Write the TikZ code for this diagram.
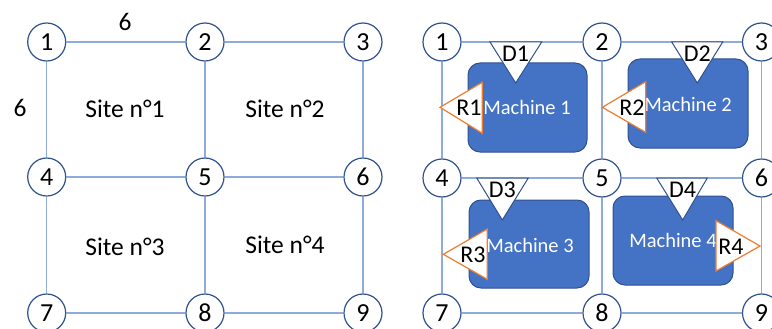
\documentclass[tikz,border=0pt]{standalone}
\usepackage{fontspec}
\setmainfont{Carlito}
\definecolor{edgeblue}{HTML}{8FAADC}
\definecolor{rimblue}{HTML}{2F528F}
\definecolor{boxblue}{HTML}{4472C4}
\definecolor{droporange}{HTML}{ED7D31}
\tikzset{
  vtx/.style={circle,draw=rimblue,fill=white,line width=1.2pt,minimum size=38pt,inner sep=0pt,font=\fontsize{26}{28}\selectfont},
  link/.style={draw=edgeblue,line width=1.2pt},
  machine/.style={draw=rimblue,fill=boxblue,line width=1pt,rounded corners=12pt},
  mlbl/.style={text=white,font=\fontsize{20.5}{23}\selectfont},
  dock/.style={draw=rimblue,fill=white,line width=1pt},
  ret/.style={draw=droporange,fill=white,line width=1.2pt},
  tag/.style={inner sep=0pt,font=\fontsize{24}{26}\selectfont},
  sitelbl/.style={font=\fontsize{25.5}{28}\selectfont}
}
\begin{document}
\begin{tikzpicture}[x=1pt,y=-1pt]
    \useasboundingbox (0,0) rectangle (772,329);
    % left grid
    \node[vtx] (a1) at (46.7,42) {1};
    \node[vtx] (a2) at (205,42) {2};
    \node[vtx] (a3) at (363,42) {3};
    \node[vtx] (a4) at (46.7,177) {4};
    \node[vtx] (a5) at (205,177) {5};
    \node[vtx] (a6) at (363,177) {6};
    \node[vtx] (a7) at (46.7,313) {7};
    \node[vtx] (a8) at (205,313) {8};
    \node[vtx] (a9) at (363,313) {9};
    \draw[link] (a1) -- (a2);
    \draw[link] (a2) -- (a3);
    \draw[link] (a4) -- (a5);
    \draw[link] (a5) -- (a6);
    \draw[link] (a7) -- (a8);
    \draw[link] (a8) -- (a9);
    \draw[link] (a1) -- (a4);
    \draw[link] (a4) -- (a7);
    \draw[link] (a2) -- (a5);
    \draw[link] (a5) -- (a8);
    \draw[link] (a3) -- (a6);
    \draw[link] (a6) -- (a9);
    \node[sitelbl] (len1) at (125,22) {6};
    \node[sitelbl] (len2) at (20,108) {6};
    \node[sitelbl] (s1) at (125,109) {Site n°1};
    \node[sitelbl] (s2) at (285,109) {Site n°2};
    \node[sitelbl] (s3) at (125,247) {Site n°3};
    \node[sitelbl] (s4) at (285,245) {Site n°4};
    % right grid
    \node[vtx] (b1) at (442,42) {1};
    \node[vtx] (b2) at (602,42) {2};
    \node[vtx] (b3) at (761.5,42) {3};
    \node[vtx] (b4) at (442,178) {4};
    \node[vtx] (b5) at (602,178) {5};
    \node[vtx] (b6) at (761.5,178) {6};
    \node[vtx] (b7) at (442,313) {7};
    \node[vtx] (b8) at (602,313) {8};
    \node[vtx] (b9) at (761.5,313) {9};
    \draw[link] (b1) -- (b2);
    \draw[link] (b2) -- (b3);
    \draw[link] (b4) -- (b5);
    \draw[link] (b5) -- (b6);
    \draw[link] (b7) -- (b8);
    \draw[link] (b8) -- (b9);
    \draw[link] (b1) -- (b4);
    \draw[link] (b4) -- (b7);
    \draw[link] (b2) -- (b5);
    \draw[link] (b5) -- (b8);
    \draw[link] (b3) -- (b6);
    \draw[link] (b6) -- (b9);
    % machines
    \draw[machine] (468,63) rectangle (587,152);
    \draw[machine] (628,59) rectangle (748,148);
    \draw[machine] (469,200) rectangle (589,288);
    \draw[machine] (613,196) rectangle (733,285);
    \node[mlbl] (m1) at (527,107) {Machine 1};
    \node[mlbl] (m2) at (688,104) {Machine 2};
    \node[mlbl] (m3) at (530,245) {Machine 3};
    \node[mlbl] (m4) at (673,240) {Machine 4};
    % docks
    \draw[dock] (490,42) -- (541.7,42) -- (515.7,83) -- cycle;
    \draw[dock] (671.7,42) -- (722.7,42) -- (697.3,83) -- cycle;
    \draw[dock] (476.7,178) -- (528.3,178) -- (502.3,220) -- cycle;
    \draw[dock] (656.7,178) -- (707.3,178) -- (682.7,220) -- cycle;
    \node[tag] (d1) at (515.7,54) {D1};
    \node[tag] (d2) at (697.3,54) {D2};
    \node[tag] (d3) at (502.3,190) {D3};
    \node[tag] (d4) at (682.7,190) {D4};
    % returns
    \draw[ret] (482.3,82.3) -- (482.3,133.3) -- (440,107.3) -- cycle;
    \draw[ret] (645.7,81.7) -- (645.7,132.3) -- (602.3,107.3) -- cycle;
    \draw[ret] (487.3,229) -- (487.3,279.3) -- (443.3,254.3) -- cycle;
    \draw[ret] (716,220.7) -- (716,271) -- (760,246) -- cycle;
    \node[tag] (r1) at (469,107.5) {R1};
    \node[tag] (r2) at (632,107.5) {R2};
    \node[tag] (r3) at (473,255) {R3};
    \node[tag] (r4) at (731,247) {R4};
\end{tikzpicture}
\end{document}
